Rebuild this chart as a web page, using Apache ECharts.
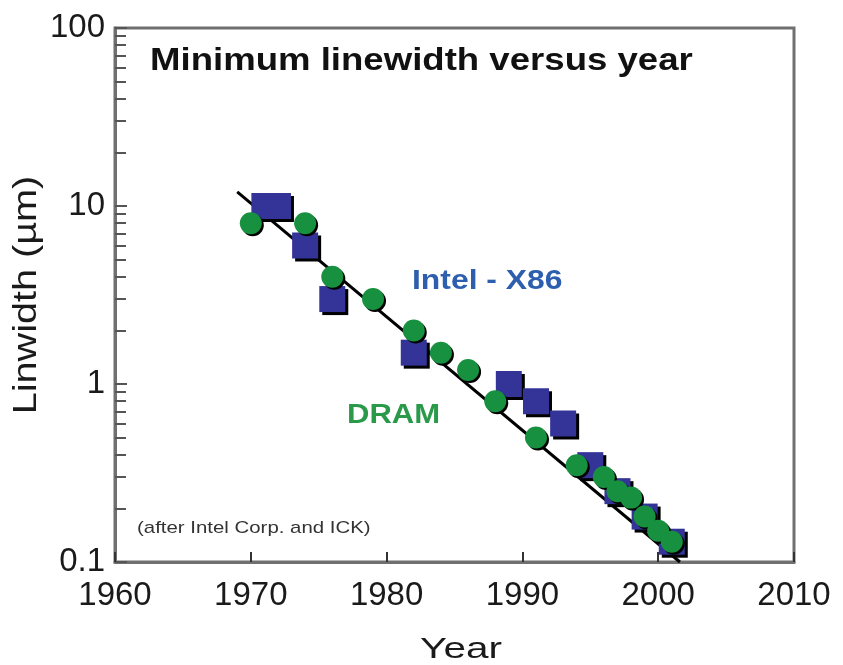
<!DOCTYPE html>
<html><head><meta charset="utf-8">
<script src="https://cdn.jsdelivr.net/npm/echarts@6/dist/echarts.min.js"></script>
<style>html,body{margin:0;padding:0;background:#fff}#c{width:843px;height:665px}</style>
</head><body><div id="c"></div>
<script>
var intelYears = [1971, 1972, 1974, 1976, 1982, 1989, 1991, 1993, 1995, 1997, 1999, 2001];
var intelValues = [10, 10, 6, 3, 1.5, 1.0, 0.8, 0.6, 0.35, 0.25, 0.18, 0.13];
var dramYears = [1970, 1974, 1976, 1979, 1982, 1984, 1986, 1988, 1991, 1994, 1996, 1997, 1998, 1999, 2000, 2001];
var dramValues = [8, 8, 4, 3, 2, 1.5, 1.2, 0.8, 0.5, 0.35, 0.3, 0.25, 0.23, 0.18, 0.15, 0.13];
var trendYears = [1969, 2001.6];
var trendValues = [12, 0.1];
var xTicks = [1960, 1970, 1980, 1990, 2000, 2010];
var yTicks = [0.1, 1, 10, 100];

function pairs(a, b) { return a.map(function (v, i) { return [v, b[i]]; }); }
var FONT = "'Liberation Sans', Arial, Helvetica, sans-serif";
var axisGray = '#707070';

var chart = echarts.init(document.getElementById('c'), null, { renderer: 'canvas' });
chart.setOption({
  animation: false,
  backgroundColor: '#ffffff',
  grid: { left: 115, right: 49, top: 28, bottom: 103, containLabel: false, outerBoundsMode: 'none',
    show: true, borderColor: axisGray, borderWidth: 3, backgroundColor: 'transparent' },
  xAxis: {
    type: 'value', min: xTicks[0], max: xTicks[xTicks.length - 1], interval: 10,
    axisLine: { show: true, lineStyle: { color: axisGray, width: 3 } },
    axisTick: { show: true, inside: true, length: 10, lineStyle: { color: '#333', width: 2 } },
    axisLabel: { fontSize: 33, color: '#1a1a1a', fontFamily: FONT, margin: 17,
      formatter: function (v) { return xTicks.indexOf(v) >= 0 ? String(v) : ''; } },
    splitLine: { show: false }
  },
  yAxis: {
    type: 'log', logBase: 10, min: yTicks[0], max: yTicks[yTicks.length - 1],
    axisLine: { show: true, lineStyle: { color: axisGray, width: 3 } },
    axisTick: { show: true, inside: true, length: 12, lineStyle: { color: '#555', width: 2 } },
    minorTick: { show: true, splitNumber: 9, length: 11, lineStyle: { color: '#555', width: 2 } },
    axisLabel: { fontSize: 33, color: '#1a1a1a', fontFamily: FONT, margin: 10,
      formatter: function (v) {
        var r = Math.round(v * 10) / 10;
        return yTicks.indexOf(r) >= 0 ? String(r) : '';
      } },
    splitLine: { show: false }
  },
  series: [
    { type: 'line', data: pairs(trendYears, trendValues), symbol: 'none', z: 1,
      lineStyle: { color: '#000', width: 3 }, silent: true },
    { type: 'scatter', name: 'Intel - X86', data: pairs(intelYears, intelValues), symbol: 'rect', symbolSize: 26, z: 2,
      itemStyle: { color: '#343498', opacity: 1, shadowColor: '#000', shadowBlur: 0, shadowOffsetX: 3, shadowOffsetY: 3 } },
    { type: 'scatter', name: 'DRAM', data: pairs(dramYears, dramValues), symbol: 'circle', symbolSize: 22, z: 3,
      itemStyle: { color: '#17913f', opacity: 1, shadowColor: '#000', shadowBlur: 0, shadowOffsetX: 2, shadowOffsetY: 2 } }
  ],
  graphic: [
    { type: 'text', x: 150, y: 46, scaleX: 1.18, z: 10,
      style: { text: 'Minimum linewidth versus year', font: 'bold 31px ' + FONT, fill: '#111', align: 'left', verticalAlign: 'top' } },
    { type: 'text', x: 412, y: 268, scaleX: 1.18, z: 10,
      style: { text: 'Intel - X86', font: 'bold 27px ' + FONT, fill: '#2d5fae', align: 'left', verticalAlign: 'top' } },
    { type: 'text', x: 347, y: 402, scaleX: 1.15, z: 10,
      style: { text: 'DRAM', font: 'bold 27px ' + FONT, fill: '#2a9a4a', align: 'left', verticalAlign: 'top' } },
    { type: 'text', x: 137, y: 520, scaleX: 1.2, z: 10,
      style: { text: '(after Intel Corp. and ICK)', font: '17px ' + FONT, fill: '#333', align: 'left', verticalAlign: 'top' } },
    { type: 'text', x: 461, y: 635, scaleX: 1.35, z: 10,
      style: { text: 'Year', font: '30px ' + FONT, fill: '#1a1a1a', align: 'center', verticalAlign: 'top' } },
    { type: 'text', x: 27, y: 295, rotation: Math.PI / 2, scaleX: 1.2, z: 10,
      style: { text: 'Linwidth (µm)', font: '33px ' + FONT, fill: '#1a1a1a', align: 'center', verticalAlign: 'middle' } }
  ]
});
</script></body></html>
